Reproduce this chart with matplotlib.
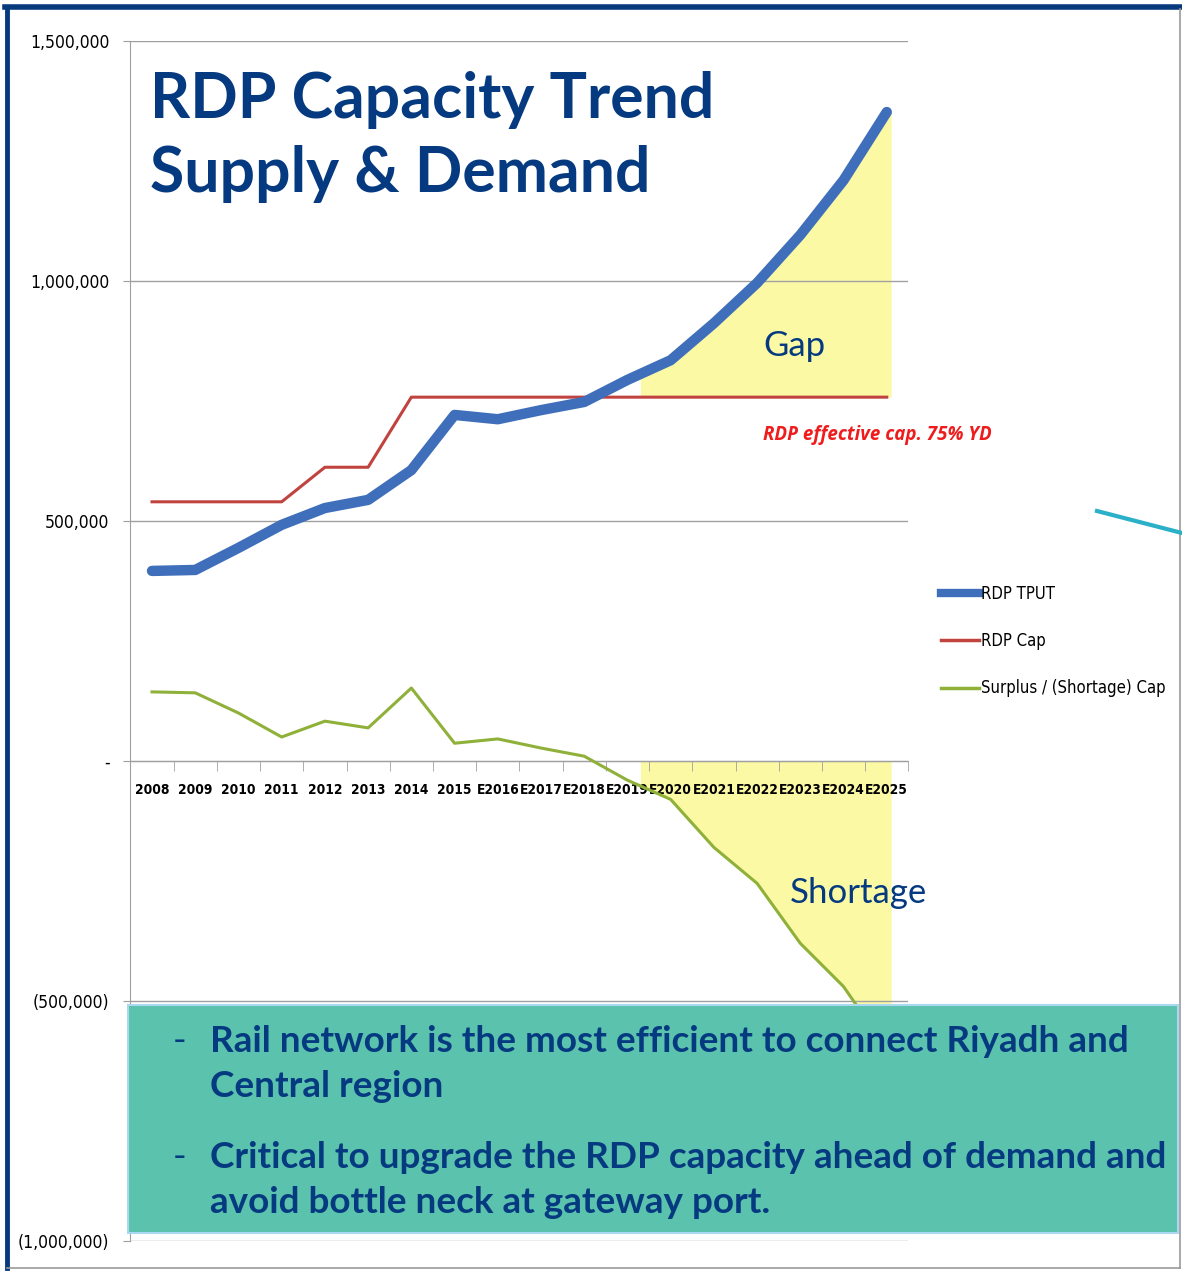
import numpy as np
import matplotlib
matplotlib.use('Agg')
from matplotlib import pyplot as plt
from matplotlib.patches import Rectangle
from matplotlib.lines import Line2D
from matplotlib.ticker import FixedLocator, FuncFormatter

# values (TEU)
years = ['2008', '2009', '2010', '2011', '2012', '2013', '2014', '2015', 'E2016', 'E2017',
         'E2018', 'E2019', 'E2020', 'E2021', 'E2022', 'E2023', 'E2024', 'E2025']
rdp_tput = [396000, 398000, 444000, 492000, 527000, 544000, 606000, 721000, 712000, 731000,
            748000, 794000, 835000, 912000, 996000, 1096000, 1210000, 1352000]
rdp_cap = [540000, 540000, 540000, 540000, 612000, 612000, 758000, 758000, 758000, 758000,
           758000, 758000, 758000, 758000, 758000, 758000, 758000, 758000]
surplus = [144000, 142000, 100000, 50000, 83000, 69000, 152000, 37000, 46000, 27000,
           10000, -40000, -80000, -180000, -255000, -380000, -470000, -600000]
yticks = [1500000, 1000000, 500000, 0, -500000, -1000000]

W, H = 1182, 1271
fig = plt.figure(figsize=(W / 100, H / 100), dpi=100)
fig.patch.set_facecolor('white')


def fx(px):
    return px / W


def fy(py):
    return 1 - py / H


ax = fig.add_axes([fx(130.4), fy(1241), fx(778), 1200 / H])
x = np.arange(len(years))

navy = '#053a80'
yellow = '#fbf9a4'

# highlighted gap / shortage areas
xs = np.linspace(11.3, 17.1, 60)
t = np.interp(xs, x, rdp_tput)
c = np.interp(xs, x, rdp_cap)
s = np.interp(xs, x, surplus)
ax.fill_between(xs, c, t, color=yellow, lw=0, zorder=1)
ax.fill_between(xs, s, 0, color=yellow, lw=0, zorder=1)

ax.plot(x, rdp_tput, color='#3f6fba', lw=7.5, solid_capstyle='round', zorder=4)
ax.plot(x, rdp_cap, color='#c0433f', lw=2.2, zorder=3)
ax.plot(x, surplus, color='#8fb039', lw=2.2, zorder=3)

ax.set_xlim(-0.5, len(years) - 0.5)
ax.set_ylim(-1000000, 1500000)
ax.yaxis.set_major_locator(FixedLocator(yticks))


def fmt(v, pos):
    if v == 0:
        return '-'
    if v < 0:
        return '({:,.0f})'.format(-v)
    return '{:,.0f}'.format(v)


ax.yaxis.set_major_formatter(FuncFormatter(fmt))
ax.grid(axis='y', color='#a0a0a0', lw=1)
ax.set_axisbelow('line')
for side in ['top', 'right']:
    ax.spines[side].set_visible(False)
ax.spines['left'].set_color('#a0a0a0')
ax.spines['bottom'].set_position(('data', 0))
ax.spines['bottom'].set_color('#a0a0a0')
ax.spines['bottom'].set_zorder(2)

ax.set_xticks(x)
ax.set_xticklabels(years)
ax.tick_params(axis='x', length=0, pad=16, labelsize=9.8)
ax.set_xticks(np.arange(len(years) + 1) - 0.5, minor=True)
ax.tick_params(axis='x', which='minor', length=7, color='#a0a0a0', direction='out')
ax.tick_params(axis='y', length=5, color='#a0a0a0', labelsize=12.5, pad=10)
for lab in ax.get_xticklabels():
    lab.set_fontweight('bold')
    lab.set_fontfamily('DejaVu Sans')
    lab.set_fontstretch('condensed')
for lab in ax.get_yticklabels():
    lab.set_fontfamily('DejaVu Sans')
    lab.set_fontstretch('condensed')

# titles and labels
fig.text(fx(150), fy(118), 'RDP Capacity Trend', color=navy, fontsize=45, fontweight='bold',
         family='Lato', va='baseline')
fig.text(fx(150), fy(192), 'Supply & Demand', color=navy, fontsize=45, fontweight='bold',
         family='Lato', va='baseline')
ax.text(14.15, 865000, 'Gap', color=navy, fontsize=25, family='Lato', va='center')
ax.text(14.75, -275000, 'Shortage', color=navy, fontsize=25, family='Lato', va='center')
ax.text(14.14, 680000, 'RDP effective cap. 75% YD', color='#ee1c1c', fontsize=13.5,
        fontweight='bold', style='italic', family='Open Sans', va='center')

# legend
handles = [Line2D([], [], color='#3f6fba', lw=6),
           Line2D([], [], color='#c0433f', lw=2.5),
           Line2D([], [], color='#8fb039', lw=2.5)]
leg = fig.legend(handles, ['RDP TPUT', 'RDP Cap', 'Surplus / (Shortage) Cap'],
                 loc='upper left', bbox_to_anchor=(fx(926), fy(570)), frameon=False,
                 handlelength=2.3, handletextpad=0.1, labelspacing=1.75,
                 prop={'family': 'DejaVu Sans', 'stretch': 'condensed', 'size': 12})

# message box
box = Rectangle((fx(128), fy(1233)), fx(1050), (1233 - 1005) / H, transform=fig.transFigure,
                facecolor='#5bc2ad', edgecolor='#a9d8f0', lw=1.5, zorder=5)
fig.add_artist(box)
lines = [(1052, '-', 'Rail network is the most efficient to connect Riyadh and'),
         (1097, '', 'Central region'),
         (1168, '-', 'Critical to upgrade the RDP capacity ahead of demand and'),
         (1213, '', 'avoid bottle neck at gateway port.')]
for py, dash, txt in lines:
    if dash:
        fig.text(fx(173), fy(py), dash, color=navy, fontsize=26.5, family='Lato',
                 va='baseline', zorder=6)
    fig.text(fx(210), fy(py), txt, color=navy, fontsize=26.6, fontweight='bold',
             family='Lato', va='baseline', zorder=6)

# slide frame and connector
fig.add_artist(Line2D([fx(5), fx(1182)], [fy(7), fy(7)], color='#07397d', lw=4,
                      transform=fig.transFigure))
fig.add_artist(Line2D([fx(7), fx(7)], [fy(7), fy(1268)], color='#07397d', lw=3.5,
                      transform=fig.transFigure))
fig.add_artist(Line2D([fx(1180), fx(1180)], [fy(9), fy(1268)], color='#9a9a9a', lw=1.2,
                      transform=fig.transFigure))
fig.add_artist(Line2D([fx(7), fx(1180)], [fy(1268), fy(1268)], color='#9a9a9a', lw=1.2,
                      transform=fig.transFigure))
fig.add_artist(Line2D([fx(1097), fx(1182)], [fy(511), fy(533)], color='#2ab0c8', lw=3,
                      transform=fig.transFigure))

fig.savefig('out.png', dpi=100)
